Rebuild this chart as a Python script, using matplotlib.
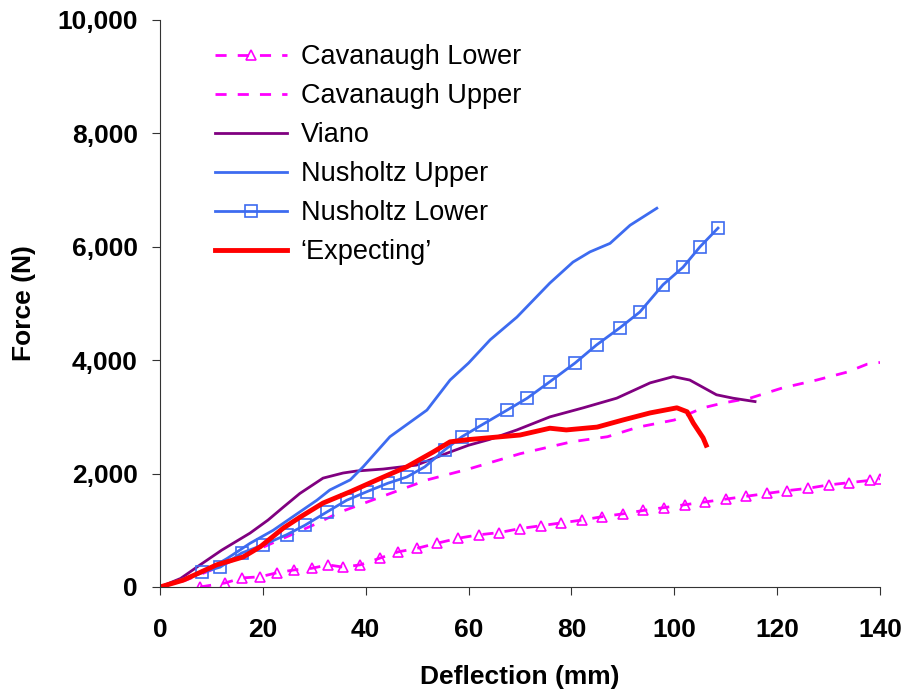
import matplotlib
matplotlib.use("Agg")
from matplotlib import pyplot as plt
from matplotlib.ticker import FuncFormatter

plt.rcParams['font.family'] = ['Liberation Sans', 'DejaVu Sans']

# Cavanaugh Lower (triangles)
cav_low_x = [7.8, 12.6, 16, 19.5, 22.7, 26, 29.5, 32.7, 35.6, 38.9, 42.8, 46.3, 49.9, 53.8,
             58, 62, 66, 70, 74, 78, 82, 86, 90, 94, 98, 102, 106, 110, 114, 118,
             122, 126, 130, 134, 138, 140]
cav_low_y = [0, 70, 160, 180, 250, 300, 330, 390, 350, 390, 510, 620, 680, 770,
             860, 920, 960, 1030, 1080, 1130, 1180, 1240, 1290, 1350, 1400, 1450, 1500,
             1550, 1600, 1650, 1700, 1740, 1800, 1840, 1880, 1910]

# Cavanaugh Upper
cav_up_x = [0, 5, 10, 20, 30, 35, 43, 52, 60, 70, 80, 87, 93, 100, 105.6, 109.5,
            114.7, 121, 127.7, 133.6, 137.5, 140]
cav_up_y = [0, 120, 300, 700, 1100, 1320, 1590, 1890, 2080, 2350, 2560, 2650, 2820, 2945,
            3160, 3245, 3330, 3510, 3650, 3790, 3930, 3960]

# Viano
viano_x = [0, 4, 7.8, 12, 17.5, 21, 24, 27.2, 31.7, 35.6, 38.2, 43.4, 49.9, 56.4, 60,
           64, 69.4, 75.8, 82.3, 88.8, 95.3, 99.8, 103, 108.2, 111.4, 115.7]
viano_y = [0, 150, 390, 650, 950, 1180, 1410, 1650, 1920, 2010, 2045, 2080, 2150, 2380,
           2500, 2600, 2770, 3000, 3160, 3330, 3600, 3710, 3650, 3390, 3330, 3270]

# Nusholtz Upper
nus_up_x = [0, 4, 8.4, 13, 17.5, 22, 26, 30.5, 33, 37, 39.5, 44.7, 51.9, 56.4, 60,
            64.2, 69.4, 75.8, 80.3, 83.6, 87.5, 91.4, 96.6]
nus_up_y = [0, 100, 260, 500, 770, 1000, 1250, 1530, 1710, 1890, 2120, 2650, 3120, 3650,
            3950, 4360, 4760, 5360, 5730, 5910, 6060, 6380, 6680]

# Nusholtz Lower (squares)
nus_low_x = [0, 8.2, 11.7, 15.9, 20, 24.6, 28.2, 32.4, 36.3, 40.2, 44.3, 48, 51.5, 55.4,
             58.7, 62.6, 67.5, 71.4, 75.8, 80.7, 84.9, 89.4, 93.3, 97.8, 101.7, 105, 108.5]
nus_low_y = [0, 260, 350, 600, 740, 920, 1090, 1320, 1530, 1680, 1830, 1940, 2120, 2420,
             2650, 2860, 3120, 3330, 3620, 3950, 4270, 4570, 4850, 5330, 5640, 6000, 6330]

# 'Expecting'
exp_x = [0, 4.5, 11, 16.2, 19.5, 24, 27.2, 31.7, 37, 42.2, 48, 53.1, 56.4, 60, 65, 70,
         75.8, 79, 85, 90, 95.3, 100.5, 102.5, 103.7, 105.6, 106.2]
exp_y = [0, 120, 390, 530, 710, 1040, 1230, 1480, 1680, 1890, 2120, 2380, 2560, 2600,
         2640, 2680, 2800, 2770, 2820, 2945, 3070, 3160, 3090, 2890, 2630, 2500]

magenta = '#FF00FF'
purple = '#800080'
blue = '#3D6BF0'
red = '#FF0000'

fig = plt.figure(figsize=(9.05, 6.94), dpi=100)
ax = fig.add_axes([0.1768, 0.1542, 0.7956, 0.817])

ax.plot(cav_low_x, cav_low_y, color=magenta, lw=2, linestyle=(0, (4, 4)),
        marker='^', markersize=7, markerfacecolor='none', markeredgewidth=1.2,
        label='Cavanaugh Lower')
ax.plot(cav_up_x, cav_up_y, color=magenta, lw=2, linestyle=(0, (4, 4)),
        label='Cavanaugh Upper')
ax.plot(viano_x, viano_y, color=purple, lw=2, label='Viano')
ax.plot(nus_up_x, nus_up_y, color=blue, lw=2, label='Nusholtz Upper')
ax.plot(nus_low_x[1:], nus_low_y[1:], color=blue, lw=2, marker='s', markersize=8,
        markerfacecolor='none', markeredgewidth=1.2, label='Nusholtz Lower')
ax.plot(nus_low_x[:2], nus_low_y[:2], color=blue, lw=2)
ax.plot(exp_x, exp_y, color=red, lw=3.5, label='\u2018Expecting\u2019')

ax.set_xlim(0, 140)
ax.set_ylim(0, 10000)
ax.set_xticks([0, 20, 40, 60, 80, 100, 120, 140])
ax.set_yticks([0, 2000, 4000, 6000, 8000, 10000])
ax.yaxis.set_major_formatter(FuncFormatter(lambda v, p: f'{int(v):,}'))

for s in ['top', 'right']:
    ax.spines[s].set_visible(False)
for s in ['left', 'bottom']:
    ax.spines[s].set_color('#333333')
ax.tick_params(direction='out', length=6, color='#333333', labelsize=19)
ax.tick_params(axis='x', pad=16)
ax.tick_params(axis='y', pad=10)
for lab in ax.get_xticklabels() + ax.get_yticklabels():
    lab.set_fontweight('bold')

ax.set_xlabel('Deflection (mm)', fontsize=19, fontweight='bold')
ax.set_ylabel('Force (N)', fontsize=19, fontweight='bold')
ax.xaxis.set_label_coords(0.5, -0.138)
ax.yaxis.set_label_coords(-0.172, 0.5)

ax.legend(loc='upper left', bbox_to_anchor=(0.043, 1.0), frameon=False, fontsize=19.5,
          handlelength=2.65, labelspacing=0.48, handletextpad=0.5)

fig.savefig('out.png', dpi=100)
